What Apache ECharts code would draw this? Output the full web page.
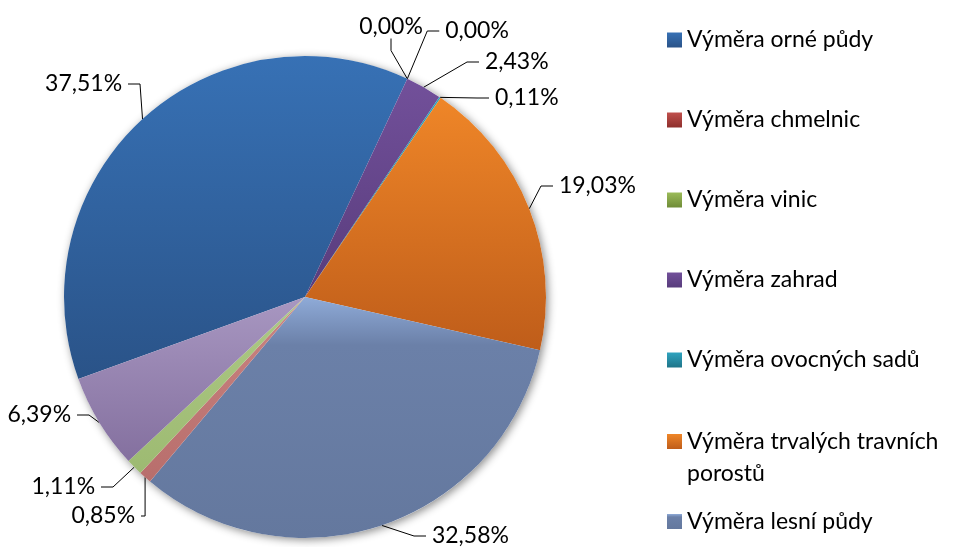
<!DOCTYPE html>
<html>
<head>
<meta charset="utf-8">
<script src="https://cdn.jsdelivr.net/npm/echarts@6/dist/echarts.min.js"></script>
<style>
  html, body { margin: 0; padding: 0; background: #fff; }
  #chart { width: 961px; height: 547px; }
</style>
</head>
<body>
<div id="chart"></div>
<script>
  // data (podíly v %)
  var names = ['Výměra orné půdy', 'Výměra chmelnic', 'Výměra vinic', 'Výměra zahrad',
    'Výměra ovocných sadů', 'Výměra trvalých travních porostů', 'Výměra lesní půdy',
    'Výměra vodních ploch', 'Výměra zastavěných ploch', 'Výměra ostatních ploch'];
  var values = [37.51, 0.00, 0.00, 2.43, 0.11, 19.03, 32.58, 0.85, 1.11, 6.39];
  // legenda ukazuje jen prvních 7 položek (jako v originále)
  var legendNames = names.slice(0, 7);

  var FONT = 'Lato, "Open Sans", sans-serif';

  // barvy s přechodem shora dolů
  var colors = [
    ['#3771b5', '#2a5388'],
    ['#c0504d', '#8e2f2c'],
    ['#9bbb59', '#6f8c37'],
    ['#72509a', '#583c7c'],
    ['#2fa3bf', '#1f7589'],
    ['#ef8628', '#bf5d1a'],
    ['#8fabd8', '#64789e'],
    ['#c98482', '#b86e6c'],
    ['#adc985', '#9dba72'],
    ['#a897c1', '#84709f']
  ];
  // kam umístit popisky (kotva textu vč. mezery, zarovnání)
  var labelPos = [
    [128, 84, 'right'],
    [391, 27, 'center'],
    [477, 31, 'center'],
    [479, 62, 'left'],
    [489, 98, 'left'],
    [553, 186, 'left'],
    [426, 536, 'left'],
    [141, 516, 'right'],
    [101, 487, 'right'],
    [77, 415, 'right']
  ];

  function grad(c) {
    return new echarts.graphic.LinearGradient(0, 0, 0, 1, [
      {offset: 0, color: c[0]},
      {offset: 1, color: c[1]}
    ]);
  }
  // lesní půda: světlejší jen nahoře
  function gradForest(c) {
    return new echarts.graphic.LinearGradient(0, 0, 0, 1, [
      {offset: 0, color: c[0]},
      {offset: 0.2, color: '#6b80a8'},
      {offset: 1, color: c[1]}
    ]);
  }

  var pieData = values.map(function (v, i) {
    return {
      name: names[i],
      value: v,
      itemStyle: {color: i === 6 ? gradForest(colors[i]) : grad(colors[i])}
    };
  });

  function fmt(p) {
    // mezery kolem textu = malá mezera mezi čarou a popiskem
    return ' ' + p.value.toFixed(2).replace('.', ',') + '% ';
  }

  var legendText = {fontFamily: FONT, fontSize: 23, color: '#000', lineHeight: 32};

  var option = {
    backgroundColor: '#fff',
    animation: false,
    legend: [
      {
        orient: 'vertical',
        left: 667, top: 24,
        padding: 0,
        itemWidth: 15, itemHeight: 15,
        itemGap: 48,
        icon: 'rect',
        selectedMode: false,
        textStyle: legendText,
        data: legendNames.slice(0, 5)
      },
      {
        orient: 'vertical',
        left: 667, top: 393.5,
        padding: 0,
        itemWidth: 15, itemHeight: 15,
        itemGap: 16,
        icon: 'rect',
        selectedMode: false,
        textStyle: legendText,
        formatter: function (n) {
          // prázdný první řádek -> ikona stojí u prvního řádku textu
          return n === names[5] ? ' \nVýměra trvalých travních\nporostů' : n;
        },
        data: legendNames.slice(5, 7)
      }
    ],
    series: [
      {
        // stín pod koláčem
        type: 'pie',
        silent: true,
        center: [305, 297],
        radius: 241,
        label: {show: false},
        labelLine: {show: false},
        itemStyle: {
          color: '#fff',
          shadowBlur: 8,
          shadowColor: 'rgba(0,0,0,0.45)',
          shadowOffsetX: 2,
          shadowOffsetY: 2
        },
        data: [{name: '', value: 1}],
        z: 1
      },
      {
        type: 'pie',
        center: [305, 297],
        radius: 241,
        startAngle: 199.9,
        clockwise: true,
        avoidLabelOverlap: false,
        z: 2,
        label: {
          show: true,
          formatter: fmt,
          fontFamily: FONT,
          fontSize: 23,
          color: '#000'
        },
        labelLine: {
          show: true,
          length: 14,
          length2: 12,
          lineStyle: {color: '#000', width: 1}
        },
        labelLayout: function (p) {
          var lp = labelPos[p.dataIndex];
          return {x: lp[0], y: lp[1], align: lp[2], verticalAlign: 'middle'};
        },
        itemStyle: {borderWidth: 0},
        emphasis: {disabled: true},
        data: pieData
      }
    ]
  };

  var chartObj = echarts.init(document.getElementById('chart'));
  chartObj.setOption(option);
</script>
</body>
</html>
